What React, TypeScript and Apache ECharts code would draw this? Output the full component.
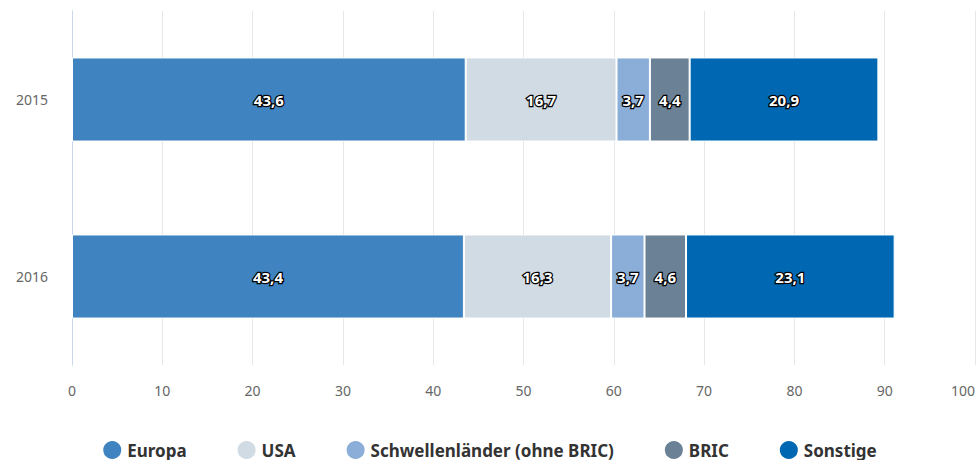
import React, { useEffect, useRef } from "react";
import * as echarts from "echarts";

const categories = ["2015", "2016"];
const seriesNames = ["Europa", "USA", "Schwellenländer (ohne BRIC)", "BRIC", "Sonstige"];
const europa = [43.6, 43.4];
const usa = [16.7, 16.3];
const schwellen = [3.7, 3.7];
const bric = [4.4, 4.6];
const sonstige = [20.9, 23.1];
const colors = ["#3f84c1", "#d0dbe3", "#8aaed8", "#6b8195", "#0068b3"];

export default function App() {
  const ref = useRef<HTMLDivElement>(null);
  useEffect(() => {
    if (!ref.current) return;
    const chart = echarts.init(ref.current, null, { renderer: "svg" });
    const data = [europa, usa, schwellen, bric, sonstige];
    const font = "'Source Sans Pro', 'Noto Sans', sans-serif";
    chart.setOption({
      animation: false,
      textStyle: { fontFamily: font },
      grid: { left: 72, right: 3, top: 11, bottom: 95, containLabel: false, outerBoundsMode: "none" },
      legend: {
        top: 434,
        left: "center",
        icon: "circle",
        itemWidth: 20,
        itemHeight: 20,
        itemGap: 49,
        textStyle: { fontSize: 17, fontWeight: "bold", color: "#333", fontFamily: font },
        data: seriesNames,
      },
      xAxis: {
        type: "value",
        min: 0,
        max: 100,
        interval: 10,
        axisLine: { show: false },
        axisTick: { show: false },
        splitLine: { show: true, lineStyle: { color: "#e6e6e6", width: 1 } },
        axisLabel: { color: "#666", fontSize: 14, margin: 18, fontFamily: font, alignMaxLabel: "right" },
      },
      yAxis: {
        type: "category",
        inverse: true,
        data: categories,
        axisLine: { show: true, lineStyle: { color: "#ccd6eb" } },
        axisTick: { show: false },
        axisLabel: { color: "#666", fontSize: 14, margin: 24, fontFamily: font },
      },
      series: seriesNames.map((name, i) => ({
        name,
        type: "bar",
        stack: "total",
        barWidth: "47.5%",
        data: data[i],
        itemStyle: { color: colors[i], borderColor: "#fff", borderWidth: 1 },
        label: {
          show: true,
          position: "inside",
          formatter: (p: any) => String(p.value).replace(".", ","),
          color: "#fff",
          fontSize: 15,
          fontWeight: "bold",
          textBorderColor: "#000",
          textBorderWidth: 2.5,
          fontFamily: font,
        },
      })),
    });
    return () => chart.dispose();
  }, []);
  return <div ref={ref} style={{ width: 978, height: 460, position: "absolute", left: 0, top: 0 }} />;
}
